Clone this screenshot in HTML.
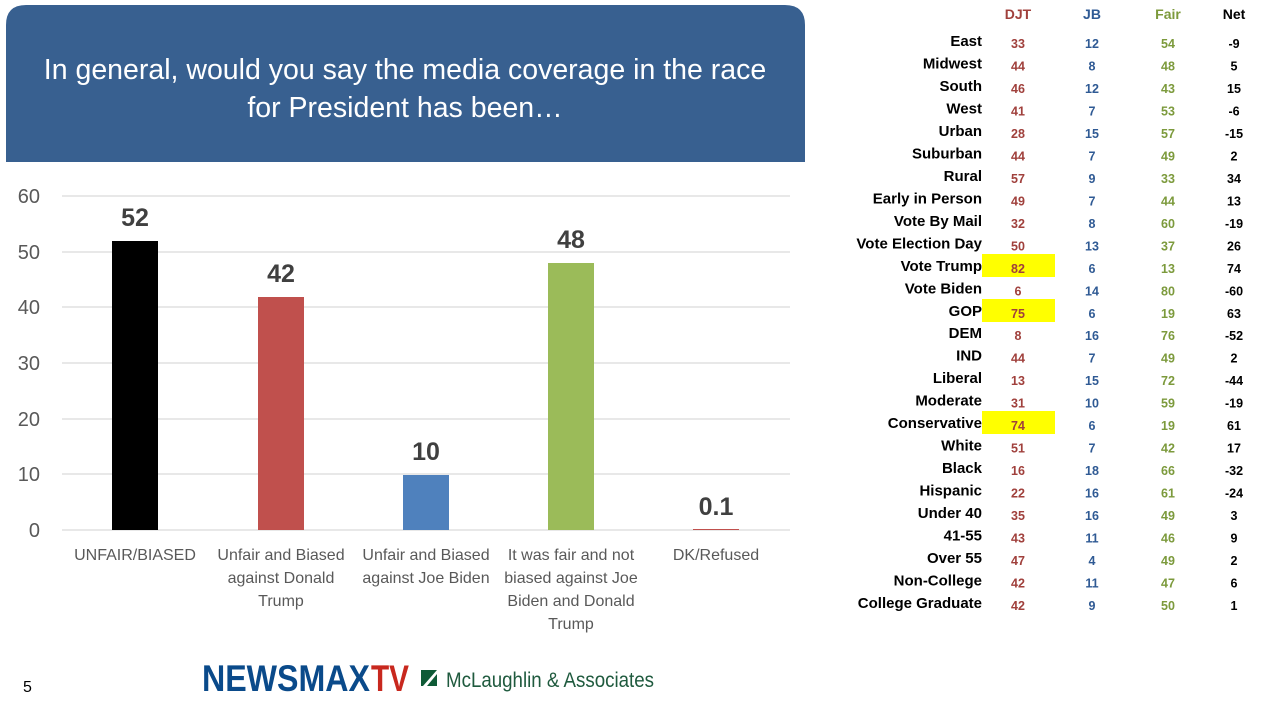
<!DOCTYPE html>
<html><head><meta charset="utf-8"><style>
html,body{margin:0;padding:0;background:#fff;}
svg{display:block;font-family:"Liberation Sans",sans-serif;}
</style></head><body>
<svg width="1279" height="717" viewBox="0 0 1279 717" xmlns="http://www.w3.org/2000/svg">
<path d="M6,162 V25 Q6,5 26,5 H785 Q805,5 805,25 V162 Z" fill="#386090"/>
<text x="405" y="79" fill="#fff" font-size="28.5" text-anchor="middle">In general, would you say the media coverage in the race</text>
<text x="405" y="117" fill="#fff" font-size="28.5" text-anchor="middle">for President has been…</text>
<g stroke="#d9d9d9" stroke-width="1.2">
<line x1="62" x2="790" y1="196" y2="196"/><line x1="62" x2="790" y1="252" y2="252"/>
<line x1="62" x2="790" y1="307" y2="307"/><line x1="62" x2="790" y1="363" y2="363"/>
<line x1="62" x2="790" y1="419" y2="419"/><line x1="62" x2="790" y1="474" y2="474"/>
<line x1="62" x2="790" y1="530" y2="530"/>
</g>
<g fill="#595959" font-size="20" text-anchor="end">
<text x="40" y="203">60</text><text x="40" y="259">50</text><text x="40" y="314">40</text>
<text x="40" y="370">30</text><text x="40" y="426">20</text><text x="40" y="481">10</text><text x="40" y="537">0</text>
</g>
<rect x="112" y="241" width="46" height="289" fill="#000"/>
<rect x="258" y="297" width="46" height="233" fill="#c0504d"/>
<rect x="403" y="475" width="46" height="55" fill="#4f81bd"/>
<rect x="548" y="263" width="46" height="267" fill="#9bbb59"/>
<rect x="693" y="529" width="46" height="1" fill="#c0504d"/>
<g fill="#404040" font-size="25" font-weight="bold" text-anchor="middle">
<text x="135" y="226">52</text><text x="281" y="282">42</text><text x="426" y="460">10</text>
<text x="571" y="248">48</text><text x="716" y="515">0.1</text>
</g>
<g fill="#595959" font-size="16" text-anchor="middle">
<text x="135" y="560">UNFAIR/BIASED</text>
<text x="281" y="560">Unfair and Biased</text><text x="281" y="583">against Donald</text><text x="281" y="606">Trump</text>
<text x="426" y="560">Unfair and Biased</text><text x="426" y="583">against Joe Biden</text>
<text x="571" y="560">It was fair and not</text><text x="571" y="583">biased against Joe</text><text x="571" y="606">Biden and Donald</text><text x="571" y="629">Trump</text>
<text x="716" y="560">DK/Refused</text>
</g>
<text x="23" y="692" font-size="16" fill="#000">5</text>
<text x="202" y="691" font-size="37" font-weight="bold" fill="#0a4a8a" textLength="168" lengthAdjust="spacingAndGlyphs">NEWSMAX</text>
<text x="371" y="691" font-size="37" font-weight="bold" fill="#c8281e" textLength="38" lengthAdjust="spacingAndGlyphs">TV</text>
<rect x="421" y="670" width="16" height="16" fill="#0e5a36"/>
<path d="M423,686 L437,670 L437,674 L427,686 Z" fill="#fff"/>
<text x="446" y="687" font-size="21" fill="#1f5a3e" textLength="208" lengthAdjust="spacingAndGlyphs">McLaughlin &amp; Associates</text>
<g font-size="14" font-weight="bold" text-anchor="middle">
<text x="1018" y="19" fill="#a0403c">DJT</text><text x="1092" y="19" fill="#2f5a94">JB</text>
<text x="1168" y="19" fill="#7c9a3c">Fair</text><text x="1234" y="19" fill="#000">Net</text>
</g>
<g fill="#ffff00">
<rect x="982" y="254" width="73" height="23"/><rect x="982" y="299" width="73" height="23"/><rect x="982" y="411" width="73" height="23"/>
</g>
<g font-size="15" font-weight="bold" text-anchor="end" fill="#000">
<text x="982" y="46">East</text><text x="982" y="68.5">Midwest</text><text x="982" y="91">South</text><text x="982" y="113.4">West</text>
<text x="982" y="135.9">Urban</text><text x="982" y="158.4">Suburban</text><text x="982" y="180.9">Rural</text><text x="982" y="203.4">Early in Person</text>
<text x="982" y="225.8">Vote By Mail</text><text x="982" y="248.3">Vote Election Day</text><text x="982" y="270.8">Vote Trump</text><text x="982" y="293.3">Vote Biden</text>
<text x="982" y="315.8">GOP</text><text x="982" y="338.2">DEM</text><text x="982" y="360.7">IND</text><text x="982" y="383.2">Liberal</text>
<text x="982" y="405.7">Moderate</text><text x="982" y="428.2">Conservative</text><text x="982" y="450.6">White</text><text x="982" y="473.1">Black</text>
<text x="982" y="495.6">Hispanic</text><text x="982" y="518.1">Under 40</text><text x="982" y="540.6">41-55</text><text x="982" y="563">Over 55</text>
<text x="982" y="585.5">Non-College</text><text x="982" y="608">College Graduate</text>
</g>
<g font-size="12.5" font-weight="bold" text-anchor="middle" fill="#a0403c">
<text x="1018" y="48">33</text><text x="1018" y="70.5">44</text><text x="1018" y="93">46</text><text x="1018" y="115.4">41</text>
<text x="1018" y="137.9">28</text><text x="1018" y="160.4">44</text><text x="1018" y="182.9">57</text><text x="1018" y="205.4">49</text>
<text x="1018" y="227.8">32</text><text x="1018" y="250.3">50</text><text x="1018" y="272.8">82</text><text x="1018" y="295.3">6</text>
<text x="1018" y="317.8">75</text><text x="1018" y="340.2">8</text><text x="1018" y="362.7">44</text><text x="1018" y="385.2">13</text>
<text x="1018" y="407.7">31</text><text x="1018" y="430.2">74</text><text x="1018" y="452.6">51</text><text x="1018" y="475.1">16</text>
<text x="1018" y="497.6">22</text><text x="1018" y="520.1">35</text><text x="1018" y="542.6">43</text><text x="1018" y="565">47</text>
<text x="1018" y="587.5">42</text><text x="1018" y="610">42</text>
</g>
<g font-size="12.5" font-weight="bold" text-anchor="middle" fill="#2f5a94">
<text x="1092" y="48">12</text><text x="1092" y="70.5">8</text><text x="1092" y="93">12</text><text x="1092" y="115.4">7</text>
<text x="1092" y="137.9">15</text><text x="1092" y="160.4">7</text><text x="1092" y="182.9">9</text><text x="1092" y="205.4">7</text>
<text x="1092" y="227.8">8</text><text x="1092" y="250.3">13</text><text x="1092" y="272.8">6</text><text x="1092" y="295.3">14</text>
<text x="1092" y="317.8">6</text><text x="1092" y="340.2">16</text><text x="1092" y="362.7">7</text><text x="1092" y="385.2">15</text>
<text x="1092" y="407.7">10</text><text x="1092" y="430.2">6</text><text x="1092" y="452.6">7</text><text x="1092" y="475.1">18</text>
<text x="1092" y="497.6">16</text><text x="1092" y="520.1">16</text><text x="1092" y="542.6">11</text><text x="1092" y="565">4</text>
<text x="1092" y="587.5">11</text><text x="1092" y="610">9</text>
</g>
<g font-size="12.5" font-weight="bold" text-anchor="middle" fill="#7c9a3c">
<text x="1168" y="48">54</text><text x="1168" y="70.5">48</text><text x="1168" y="93">43</text><text x="1168" y="115.4">53</text>
<text x="1168" y="137.9">57</text><text x="1168" y="160.4">49</text><text x="1168" y="182.9">33</text><text x="1168" y="205.4">44</text>
<text x="1168" y="227.8">60</text><text x="1168" y="250.3">37</text><text x="1168" y="272.8">13</text><text x="1168" y="295.3">80</text>
<text x="1168" y="317.8">19</text><text x="1168" y="340.2">76</text><text x="1168" y="362.7">49</text><text x="1168" y="385.2">72</text>
<text x="1168" y="407.7">59</text><text x="1168" y="430.2">19</text><text x="1168" y="452.6">42</text><text x="1168" y="475.1">66</text>
<text x="1168" y="497.6">61</text><text x="1168" y="520.1">49</text><text x="1168" y="542.6">46</text><text x="1168" y="565">49</text>
<text x="1168" y="587.5">47</text><text x="1168" y="610">50</text>
</g>
<g font-size="12.5" font-weight="bold" text-anchor="middle" fill="#000">
<text x="1234" y="48">-9</text><text x="1234" y="70.5">5</text><text x="1234" y="93">15</text><text x="1234" y="115.4">-6</text>
<text x="1234" y="137.9">-15</text><text x="1234" y="160.4">2</text><text x="1234" y="182.9">34</text><text x="1234" y="205.4">13</text>
<text x="1234" y="227.8">-19</text><text x="1234" y="250.3">26</text><text x="1234" y="272.8">74</text><text x="1234" y="295.3">-60</text>
<text x="1234" y="317.8">63</text><text x="1234" y="340.2">-52</text><text x="1234" y="362.7">2</text><text x="1234" y="385.2">-44</text>
<text x="1234" y="407.7">-19</text><text x="1234" y="430.2">61</text><text x="1234" y="452.6">17</text><text x="1234" y="475.1">-32</text>
<text x="1234" y="497.6">-24</text><text x="1234" y="520.1">3</text><text x="1234" y="542.6">9</text><text x="1234" y="565">2</text>
<text x="1234" y="587.5">6</text><text x="1234" y="610">1</text>
</g>
</svg>
</body></html>
